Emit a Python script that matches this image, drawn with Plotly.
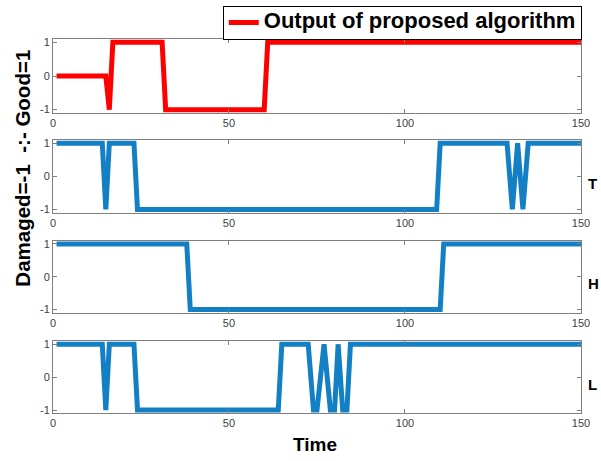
import plotly.graph_objects as go
from plotly.subplots import make_subplots

# vertices of each step signal (time, state)
out_t = [1, 15, 16, 17, 31, 32, 60, 61, 150]
out_v = [0, 0, -1, 1, 1, -1, -1, 1, 1]

T_t = [1, 14, 15, 16, 23, 24, 109, 110, 129, 130.5, 132, 133.5, 135, 150]
T_v = [1, 1, -1, 1, 1, -1, -1, 1, 1, -1, 1, -1, 1, 1]

H_t = [1, 38, 39, 110, 111, 150]
H_v = [1, 1, -1, -1, 1, 1]

L_t = [1, 14, 15, 16, 23, 24, 64, 65, 72.5, 74, 75, 77, 78.8, 80, 81, 82.3, 83.5, 84.5, 150]
L_v = [1, 1, -1, 1, 1, -1, -1, 1, 1, -1, -1, 1, -1, -1, 1, -1, -1, 1, 1]

sensor_names = ["T", "H", "L"]
x_ticks = [0, 50, 100, 150]
y_ticks = [-1, 0, 1]
y_ticktext = ["-1", "0", "1"]

RED = "#ff0000"
BLUE = "#1380c6"
FONT = "Liberation Sans"

fig = make_subplots(rows=4, cols=1)

# legend font size is kept small so the box stays as thin as matlab's,
# the label itself is drawn bigger
fig.add_trace(go.Scatter(x=out_t, y=out_v, mode="lines",
                         name="<span style='font-size:22px'><b>Output of proposed algorithm</b></span>",
                         line=dict(color=RED, width=5)), row=1, col=1)
for i, (t, v) in enumerate([(T_t, T_v), (H_t, H_v), (L_t, L_v)]):
    fig.add_trace(go.Scatter(x=t, y=v, mode="lines", showlegend=False,
                             line=dict(color=BLUE, width=5)), row=i + 2, col=1)

# axes box positions (paper fractions)
domains = [(0.7549, 0.9154), (0.5386, 0.6963), (0.3217, 0.4779), (0.1035, 0.2603)]
for r, dom in enumerate(domains, start=1):
    fig.update_xaxes(domain=[0.0882, 0.9667], range=[0, 150], tickvals=x_ticks,
                     showline=True, linecolor="#7f7f7f", linewidth=1, mirror="ticks",
                     ticks="inside", ticklen=4, tickcolor="#7f7f7f", showgrid=False,
                     zeroline=False, automargin=False,
                     tickfont=dict(family=FONT, size=11, color="#404040"),
                     row=r, col=1)
    fig.update_yaxes(domain=list(dom), range=[-1.1, 1.1], tickvals=y_ticks, ticktext=y_ticktext,
                     showline=True, linecolor="#7f7f7f", linewidth=1, mirror="ticks",
                     ticks="inside", ticklen=4, tickcolor="#7f7f7f", showgrid=False,
                     zeroline=False, automargin=False,
                     tickfont=dict(family=FONT, size=11, color="#404040"),
                     row=r, col=1)

for i, name in enumerate(sensor_names):
    fig.add_annotation(text="<b>%s</b>" % name, xref="paper", x=0.975, xanchor="left",
                       yref="y%d domain" % (i + 2), y=0.4, showarrow=False,
                       font=dict(family=FONT, size=15, color="black"))

fig.add_annotation(text="<b>Damaged=-1  -:- Good=1</b>", xref="paper", yref="paper",
                   x=0.038, y=0.636, xanchor="center", yanchor="middle",
                   textangle=-90, showarrow=False,
                   font=dict(family=FONT, size=20.5, color="black"))
fig.add_annotation(text="<b>Time</b>", xref="paper", yref="paper",
                   x=0.524, y=0.035, xanchor="center", yanchor="middle", showarrow=False,
                   font=dict(family=FONT, size=19, color="black"))

fig.update_layout(
    width=601, height=461,
    plot_bgcolor="white", paper_bgcolor="white",
    margin=dict(l=0, r=0, t=0, b=0),
    showlegend=True,
    legend=dict(x=0.968, xanchor="right", y=0.987, yanchor="top",
                bordercolor="black", borderwidth=1, bgcolor="white",
                font=dict(family=FONT, size=14, color="black"),
                itemwidth=30),
)

fig.write_html("out.html", config={"displayModeBar": False},
               post_script="document.body.style.margin='0px';")
